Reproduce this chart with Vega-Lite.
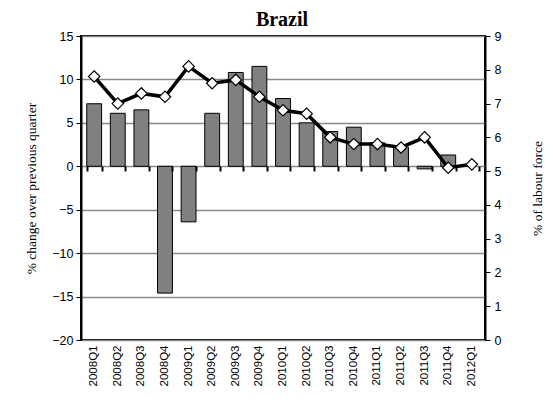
{
  "$schema": "https://vega.github.io/schema/vega-lite/v6.json",
  "autosize": "none",
  "width": 404,
  "height": 304,
  "padding": {"left": 81, "top": 36, "right": 68, "bottom": 65},
  "background": "white",
  "title": {"text": "Brazil", "font": "Liberation Serif", "fontSize": 20, "fontWeight": "bold", "color": "black", "anchor": "middle", "frame": "group", "dx": -1, "offset": -20, "baseline": "bottom"},
  "config": {
    "view": {"stroke": "black", "strokeWidth": 2},
    "axis": {"labelFont": "Liberation Sans", "labelFontSize": 12.5, "labelColor": "black", "titleFont": "Liberation Serif", "titleFontSize": 13.5, "titleFontWeight": "normal", "titleColor": "black", "domainColor": "black", "tickColor": "black"}
  },
  "data": {"values": [
    {"q": "2008Q1", "growth": 7.2, "unemp": 7.8},
    {"q": "2008Q2", "growth": 6.1, "unemp": 7.0},
    {"q": "2008Q3", "growth": 6.5, "unemp": 7.3},
    {"q": "2008Q4", "growth": -14.6, "unemp": 7.2},
    {"q": "2009Q1", "growth": -6.4, "unemp": 8.1},
    {"q": "2009Q2", "growth": 6.1, "unemp": 7.6},
    {"q": "2009Q3", "growth": 10.8, "unemp": 7.7},
    {"q": "2009Q4", "growth": 11.5, "unemp": 7.2},
    {"q": "2010Q1", "growth": 7.8, "unemp": 6.8},
    {"q": "2010Q2", "growth": 5.0, "unemp": 6.7},
    {"q": "2010Q3", "growth": 4.0, "unemp": 6.0},
    {"q": "2010Q4", "growth": 4.5, "unemp": 5.8},
    {"q": "2011Q1", "growth": 2.7, "unemp": 5.8},
    {"q": "2011Q2", "growth": 2.2, "unemp": 5.7},
    {"q": "2011Q3", "growth": -0.3, "unemp": 6.0},
    {"q": "2011Q4", "growth": 1.3, "unemp": 5.1},
    {"q": "2012Q1", "growth": null, "unemp": 5.2}
  ]},
  "layer": [
    {
      "encoding": {
        "x": {"field": "q", "type": "ordinal", "sort": null,
              "scale": {"paddingInner": 0.37, "paddingOuter": 0.243},
              "axis": {"orient": "bottom", "title": null, "labelAngle": -90, "labelAlign": "right", "labelBaseline": "middle", "labelPadding": 5, "ticks": false, "domain": false, "labelFontSize": 11.5}}
      },
      "layer": [
        {
          "mark": {"type": "bar", "color": "#808080", "stroke": "black", "strokeWidth": 1},
          "encoding": {
            "y": {"field": "growth", "type": "quantitative",
                  "scale": {"domain": [-20, 15], "nice": false, "zero": false},
                  "axis": {"orient": "left", "title": "% change over previous quarter", "values": [-20, -15, -10, -5, 0, 5, 10, 15], "grid": true, "gridColor": "#8a8a8a", "gridWidth": 1.6, "domainWidth": 2, "tickSize": 5, "tickWidth": 1, "labelPadding": 3, "titlePadding": 13}}
          }
        },
        {
          "mark": {"type": "rule", "color": "black", "strokeWidth": 3},
          "encoding": {"y": {"datum": 0, "type": "quantitative"}}
        }
      ]
    },
    {
      "mark": {"type": "line", "color": "black", "strokeWidth": 3.5,
               "point": {"shape": "diamond", "filled": true, "fill": "white", "stroke": "black", "strokeWidth": 1.2, "size": 130}},
      "encoding": {
        "x": {"field": "q", "type": "ordinal", "sort": null,
              "scale": {"paddingInner": 0.37, "paddingOuter": 0.243},
              "axis": {"orient": "top", "title": null, "labels": false, "domain": false, "ticks": true, "tickBand": "extent", "tickSize": -5, "tickWidth": 2, "offset": -130, "zindex": 1}},
        "y": {"field": "unemp", "type": "quantitative",
              "scale": {"domain": [0, 9], "nice": false, "zero": false},
              "axis": {"orient": "right", "title": "% of labour force", "titleAngle": 270, "values": [0, 1, 2, 3, 4, 5, 6, 7, 8, 9], "grid": false, "domainWidth": 2, "tickSize": 5, "tickWidth": 1, "labelPadding": 4, "titlePadding": 44}}
      }
    }
  ],
  "resolve": {"scale": {"y": "independent"}, "axis": {"x": "independent"}}
}
